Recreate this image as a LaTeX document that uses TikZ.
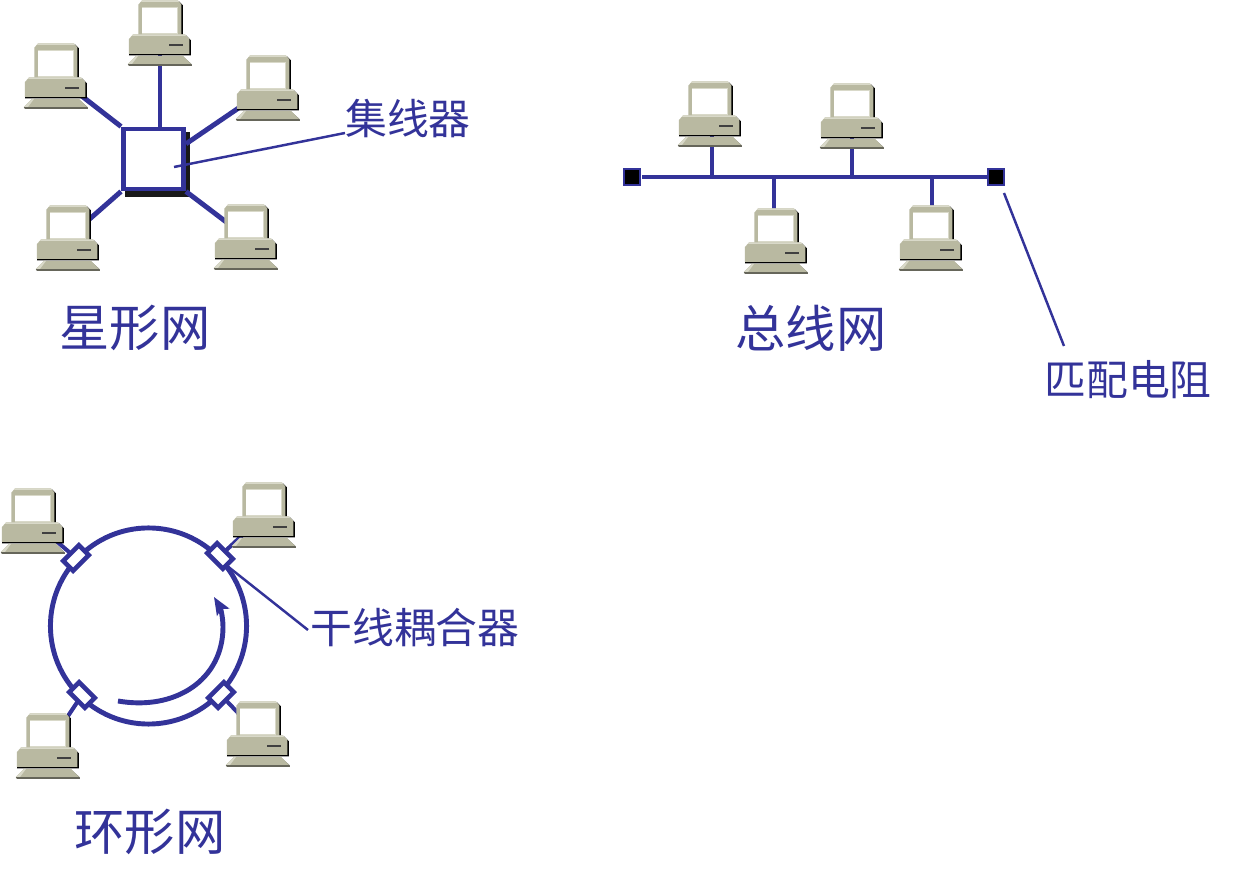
\documentclass[tikz,border=0pt]{standalone}
\usepackage{fontspec}
\usepackage{xcolor}
\usetikzlibrary{arrows.meta,backgrounds}
\setmainfont{Noto Sans CJK SC}
\definecolor{netblue}{HTML}{333399}
\definecolor{pcbody}{HTML}{B9B9A1}
\definecolor{pclight}{HTML}{D9D9C9}
\definecolor{pcdark}{HTML}{66665A}
\newcommand{\pcdrawing}[1]{%
  \begin{scope}[shift={(#1.north west)}]
    % monitor
    \fill[black] (14,2) -- (51,2) -- (55,6) -- (55,36) -- (12,36) -- cycle;
    \fill[pcbody] (14,1) -- (50,1) -- (53.5,5) -- (53.5,36) -- (10.5,36) -- (10.5,5) -- cycle;
    \fill[pclight] (14,1) -- (50,1) -- (51,2.5) -- (13,2.5) -- cycle;
    \fill[pclight] (14,8) rectangle (50,36);
    \fill[white] (14,9) rectangle (49,34);
    % base
    \fill[black] (5,36) -- (58,36) -- (63,41) -- (63,56) -- (1,56) -- cycle;
    \fill[pcbody] (5,35) -- (57,35) -- (61.5,39.5) -- (61.5,54.5) -- (1,54.5) -- (1,39.5) -- cycle;
    \fill[pclight] (5,35) -- (57,35) -- (58,36.5) -- (4,36.5) -- cycle;
    \fill[black!75] (41,45) rectangle (55,46.2);
    % keyboard
    \fill[pcdark] (0,65) -- (8,57) -- (55,57) -- (64,65) -- (64,66.5) -- (1,66.5) -- cycle;
    \fill[pcbody] (0,64.5) -- (8,56.5) -- (55,56.5) -- (63,64.5) -- cycle;
    \fill[pclight] (0,64.5) -- (8,56.5) -- (10,56.5) -- (4,64.5) -- cycle;
  \end{scope}}
\begin{document}
\begin{tikzpicture}[x=0.01cm, y=-0.01cm]
  \tikzset{
    pc/.style={minimum width=0.64cm, minimum height=0.67cm, inner sep=0pt, outer sep=0pt},
    wire/.style={draw=netblue, line width=1.4pt},
    stub/.style={draw=netblue, line width=1.15pt},
    leader/.style={draw=netblue, line width=0.7pt},
    hubbox/.style={draw=netblue, fill=white, line width=1.4pt, minimum size=0.6cm, inner sep=0pt},
    hubshadow/.style={fill=black!90, minimum size=0.64cm, inner sep=0pt},
    terminator/.style={draw=netblue, fill=black, line width=0.55pt, minimum size=0.16cm, inner sep=0pt},
    coupler/.style={draw=netblue, fill=white, line width=1.3pt, minimum width=0.22cm, minimum height=0.14cm, inner sep=0pt},
    bigtext/.style={text=netblue, inner sep=0pt, font=\fontsize{14.3}{16}\selectfont},
    smalltext/.style={text=netblue, inner sep=0pt, font=\fontsize{11.9}{14}\selectfont}
  }
  \useasboundingbox (0,0) rectangle (1235,888);

  % star
  \node[pc] (starA) at (56,76) {};
  \node[pc] (starB) at (160,33) {};
  \node[pc] (starC) at (268,88) {};
  \node[pc] (starD) at (68,238) {};
  \node[pc] (starE) at (246,237) {};
  \node[hubbox] (hub) at (153.5,159) {};
  \node[smalltext] (hublabel) at (408,119) {集线器};
  \node[bigtext] (startitle) at (135,328) {星形网};
  \coordinate (hubin) at (174,167);
  \coordinate (hubout) at (345,133);

  % bus
  \node[pc] (busA) at (710,114) {};
  \node[pc] (busB) at (852,116) {};
  \node[pc] (busC) at (776,241) {};
  \node[pc] (busD) at (931,238) {};
  \node[terminator] (termL) at (632,177) {};
  \node[terminator] (termR) at (996,177) {};
  \node[smalltext] (termlabel) at (1128,380) {匹配电阻};
  \node[bigtext] (bustitle) at (811,328) {总线网};
  \coordinate (busL) at (642,177);
  \coordinate (busR) at (988,177);
  \coordinate (tapA) at (712,177);
  \coordinate (tapB) at (852,177);
  \coordinate (tapC) at (774,177);
  \coordinate (tapD) at (932,177);
  \coordinate (termin) at (1004,193);
  \coordinate (termout) at (1064,346);

  % ring
  \node[pc] (ringA) at (33,521) {};
  \node[pc] (ringB) at (264,515) {};
  \node[pc] (ringC) at (48,746) {};
  \node[pc] (ringD) at (258,734) {};
  \node[coupler, rotate=45] (cplA) at (76,558) {};
  \node[coupler, rotate=-45] (cplB) at (220,556) {};
  \node[coupler, rotate=-45] (cplC) at (82,695) {};
  \node[coupler, rotate=45] (cplD) at (221,695) {};
  \node[smalltext] (cpllabel) at (415,628) {干线耦合器};
  \node[bigtext] (ringtitle) at (150,832) {环形网};
  \coordinate (flowin) at (118,701);
  \coordinate (flowmid) at (223,627);
  \coordinate (flowout) at (214,597);
  \coordinate (cplin) at (226,565);
  \coordinate (cplout) at (308,630);

  \foreach \pcname in {starA,starB,starC,starD,starE,busA,busB,busC,busD,ringA,ringB,ringC,ringD}
    \pcdrawing{\pcname};

  \begin{scope}[on background layer]
    \node[hubshadow] (shadow) at (157.5,164.5) {};
    \draw[wire] (starA.center) -- (hub.north west);
    \draw[wire] (starB.center) -- (starB.center |- hub.north);
    \draw[wire] (starC.center) -- (hub.25);
    \draw[wire] (starD.center) -- (hub.south west);
    \draw[wire] (starE.center) -- (hub.south east);

    \draw[wire] (busL) -- (busR);
    \draw[stub] (tapA) -- (tapA |- busA.center);
    \draw[stub] (tapB) -- (tapB |- busB.center);
    \draw[stub] (tapC) -- (tapC |- busC.center);
    \draw[stub] (tapD) -- (tapD |- busD.center);

    \node[draw=netblue, line width=1.4pt, minimum size=1.96cm, circle, inner sep=0pt] (ring) at (148.5,626) {};
    \draw[stub] (ringA.center) -- (cplA.center);
    \draw[stub] (ringB.center) -- (cplB.center);
    \draw[stub] (ringC.center) -- (cplC.center);
    \draw[stub] (ringD.center) -- (cplD.center);
  \end{scope}

  \draw[leader] (hubin) -- (hubout);
  \draw[leader] (termin) -- (termout);
  \draw[leader] (cplin) -- (cplout);
  \draw[wire, -{Stealth[length=5pt, width=4pt, inset=1pt]}] (flowin) .. controls (175,711) and (223,680) .. (flowmid) .. controls (223,616) and (220,607) .. (flowout);
\end{tikzpicture}
\end{document}
